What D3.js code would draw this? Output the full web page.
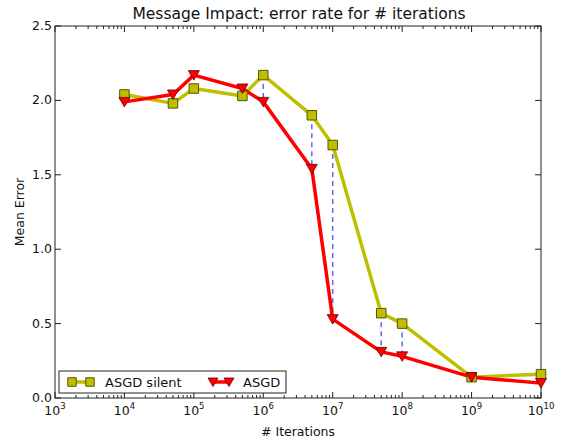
<!DOCTYPE html>
<html>
<head>
<meta charset="utf-8">
<script src="https://cdn.jsdelivr.net/npm/d3@7"></script>
<style>
  body { margin: 0; background: #fff; }
  svg { font-family: "DejaVu Sans", sans-serif; }
</style>
</head>
<body>
<svg id="chart" width="563" height="441"></svg>
<script>
// Iteration counts and mean error for both variants
const iterations = [1e4, 5e4, 1e5, 5e5, 1e6, 5e6, 1e7, 5e7, 1e8, 1e9, 1e10];
const asgdSilent = [2.04, 1.98, 2.08, 2.03, 2.17, 1.90, 1.70, 0.57, 0.50, 0.14, 0.16];
const asgd       = [1.99, 2.04, 2.17, 2.08, 1.99, 1.54, 0.53, 0.31, 0.28, 0.14, 0.10];
const yTicks = [0.0, 0.5, 1.0, 1.5, 2.0, 2.5];
const xDecades = [3, 4, 5, 6, 7, 8, 9, 10];

const svg = d3.select("#chart");
const m = { left: 55, right: 22, top: 26, bottom: 43 };
const W = 563, H = 441;
const x = d3.scaleLog().domain([1e3, 1e10]).range([m.left, W - m.right]);
const y = d3.scaleLinear().domain([0, 2.5]).range([H - m.bottom, m.top]);

const x0 = x.range()[0], x1 = x.range()[1], y0 = y.range()[0], y1 = y.range()[1];

// plot frame
svg.append("rect").attr("x", x0).attr("y", y1).attr("width", x1 - x0).attr("height", y0 - y1)
  .attr("fill", "#fff").attr("stroke", "#222").attr("stroke-width", 1);

const tickG = svg.append("g").attr("stroke", "#222").attr("stroke-width", 1);

// x major + minor ticks, pointing inward on bottom and top
const minor = [];
xDecades.slice(0, -1).forEach(d => { for (let k = 2; k <= 9; k++) minor.push(k * Math.pow(10, d)); });
xDecades.forEach(d => {
  const px = x(Math.pow(10, d));
  tickG.append("line").attr("x1", px).attr("x2", px).attr("y1", y0).attr("y2", y0 - 6);
  tickG.append("line").attr("x1", px).attr("x2", px).attr("y1", y1).attr("y2", y1 + 6);
});
minor.forEach(v => {
  const px = x(v);
  tickG.append("line").attr("x1", px).attr("x2", px).attr("y1", y0).attr("y2", y0 - 3);
  tickG.append("line").attr("x1", px).attr("x2", px).attr("y1", y1).attr("y2", y1 + 3);
});
// y ticks on left and right
yTicks.forEach(v => {
  const py = y(v);
  tickG.append("line").attr("x1", x0).attr("x2", x0 + 6).attr("y1", py).attr("y2", py);
  tickG.append("line").attr("x1", x1).attr("x2", x1 - 6).attr("y1", py).attr("y2", py);
});

// tick labels
xDecades.forEach(d => {
  const t = svg.append("text").attr("x", x(Math.pow(10, d))).attr("y", y0 + 17)
    .attr("text-anchor", "middle").attr("font-size", 12.5).attr("fill", "#111");
  t.append("tspan").text("10");
  t.append("tspan").attr("dy", -6).attr("font-size", 8.5).text(d);
});
yTicks.forEach(v => {
  svg.append("text").attr("x", x0 - 3).attr("y", y(v) + 4).attr("text-anchor", "end")
    .attr("font-size", 12.5).attr("fill", "#111").text(v.toFixed(1));
});

// axis titles and heading
svg.append("text").attr("x", (x0 + x1) / 2).attr("y", 436).attr("text-anchor", "middle")
  .attr("font-size", 12.5).attr("fill", "#111").text("# Iterations");
svg.append("text").attr("transform", `translate(24,${(y0 + y1) / 2}) rotate(-90)`)
  .attr("text-anchor", "middle").attr("font-size", 12.5).attr("fill", "#111").text("Mean Error");
svg.append("text").attr("x", (x0 + x1) / 2 + 1).attr("y", 19).attr("text-anchor", "middle")
  .attr("font-size", 15.5).attr("fill", "#111").text("Message Impact: error rate for # iterations");

const plot = svg.append("g");

// dashed difference lines between the two variants
plot.selectAll("line.diff").data(iterations).join("line")
  .attr("x1", d => x(d)).attr("x2", d => x(d))
  .attr("y1", (d, i) => y(asgdSilent[i])).attr("y2", (d, i) => y(asgd[i]))
  .attr("stroke", "#6666ee").attr("stroke-width", 1.5).attr("stroke-dasharray", "5,4");

const line = d3.line().x(d => x(d[0])).y(d => y(d[1]));
const silentPts = iterations.map((v, i) => [v, asgdSilent[i]]);
const asgdPts = iterations.map((v, i) => [v, asgd[i]]);

const yellow = "#bfbf00", red = "#ff0000";
const sq = d3.symbol().type(d3.symbolSquare).size(90);
const tri = "M-5.5,-4.5 L5.5,-4.5 L0,5 Z";
const sqSmall = d3.symbol().type(d3.symbolSquare).size(72);
const triSmall = "M-5,-4 L5,-4 L0,4.5 Z";

plot.append("path").attr("d", line(silentPts)).attr("fill", "none")
  .attr("stroke", yellow).attr("stroke-width", 3.5).attr("stroke-linejoin", "round");
plot.append("path").attr("d", line(asgdPts)).attr("fill", "none")
  .attr("stroke", red).attr("stroke-width", 3.5).attr("stroke-linejoin", "round");

plot.selectAll("path.sq").data(silentPts).join("path")
  .attr("transform", d => `translate(${x(d[0])},${y(d[1])})`)
  .attr("d", sq).attr("fill", yellow).attr("stroke", "#555500").attr("stroke-width", 1);
plot.selectAll("path.tri").data(asgdPts).join("path")
  .attr("transform", d => `translate(${x(d[0])},${y(d[1])})`)
  .attr("d", tri).attr("fill", red).attr("stroke", "#660000").attr("stroke-width", 0.8);

// legend
const lg = svg.append("g").attr("transform", `translate(59,371)`);
lg.append("rect").attr("width", 227).attr("height", 22).attr("fill", "#fff")
  .attr("stroke", "#222").attr("stroke-width", 1);
lg.append("line").attr("x1", 13).attr("x2", 31).attr("y1", 11).attr("y2", 11)
  .attr("stroke", yellow).attr("stroke-width", 3.5);
[13, 31].forEach(px => lg.append("path").attr("transform", `translate(${px},11)`)
  .attr("d", sqSmall).attr("fill", yellow).attr("stroke", "#555500"));
lg.append("text").attr("x", 46).attr("y", 16).attr("font-size", 13).attr("fill", "#111").text("ASGD silent");
lg.append("line").attr("x1", 154).attr("x2", 170).attr("y1", 11).attr("y2", 11)
  .attr("stroke", red).attr("stroke-width", 3.5);
[154, 170].forEach(px => lg.append("path").attr("transform", `translate(${px},11)`)
  .attr("d", triSmall).attr("fill", red).attr("stroke", "#660000").attr("stroke-width", 0.8));
lg.append("text").attr("x", 184).attr("y", 16).attr("font-size", 13).attr("fill", "#111").text("ASGD");
</script>
</body>
</html>
